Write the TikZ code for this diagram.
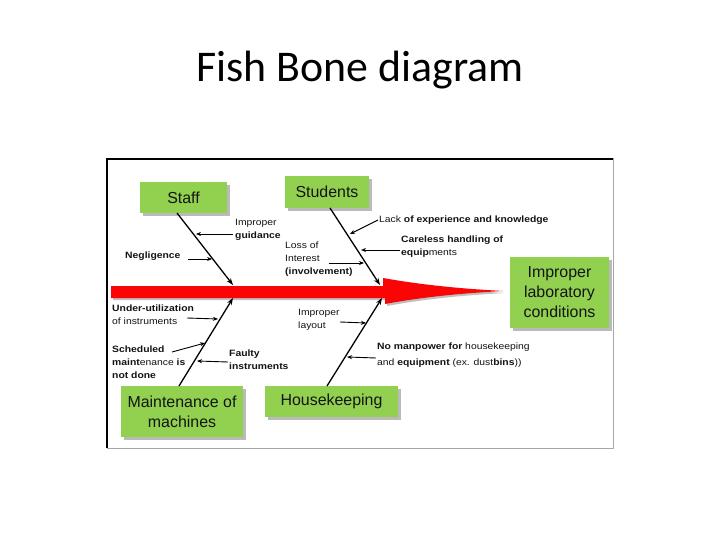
\documentclass[tikz,border=0pt]{standalone}
\usepackage{fontspec}
\setmainfont{Liberation Sans}
\newfontfamily\titlefont{Carlito}
\newfontfamily\lblfont[FakeStretch=1.13]{Liberation Sans}
\usetikzlibrary{arrows.meta,shadows}
\definecolor{boxgreen}{RGB}{146,208,80}
\definecolor{spinered}{RGB}{250,5,5}
\definecolor{txt}{RGB}{20,20,20}
\tikzset{
  box/.style={fill=boxgreen, inner sep=0pt, align=center, text=txt,
    font=\fontsize{16}{20}\selectfont,
    drop shadow={shadow xshift=3bp, shadow yshift=-3bp, fill=black!45, opacity=0.6}},
  lbl/.style={anchor=north west, inner sep=0pt, align=left, text=txt,
    font=\lblfont\fontsize{9.2}{13}\selectfont},
  bone/.style={line width=1.3bp, -{Stealth[length=7bp,width=5bp]}},
  twig/.style={line width=0.9bp, -{Stealth[length=5bp,width=4bp]}},
}
\begin{document}
\begin{tikzpicture}[x=1bp,y=-1bp]
\useasboundingbox (0,0) rectangle (720,540);
\fill[white] (0,0) rectangle (720,540);
% title
\node[anchor=base, inner sep=0pt, font=\titlefont\fontsize{44}{50}\selectfont] (title) at (360,82) {Fish Bone diagram};
% frame
\draw[black!35, line width=1bp] (107,159) rectangle (613,448);
\draw[black, line width=1.6bp] (107,448) -- (107,159) -- (613,159);
% spine shadow
\fill[black!25] (113,288) -- (385,288) -- (385,280) .. controls (430,288) and (470,291) .. (505,293)
  .. controls (470,295) and (430,298) .. (387,306) -- (387,300) -- (113,300) -- cycle;
% spine
\fill[spinered] (111,286) -- (383,286) -- (383,278) .. controls (428,286) and (468,289) .. (503,291)
  .. controls (468,293) and (428,296) .. (385,304) -- (385,298) -- (111,298) -- cycle;
% boxes
\node[box, minimum width=87bp, minimum height=31bp] (staff) at (183.5,197.5) {Staff};
\node[box, minimum width=84bp, minimum height=32bp] (students) at (327,192) {Students};
\node[box, minimum width=99bp, minimum height=71bp] (cond) at (559.5,292.5) {Improper\\laboratory\\conditions};
\node[box, minimum width=122bp, minimum height=51bp] (maint) at (182,411.5) {Maintenance of\\machines};
\node[box, minimum width=133bp, minimum height=31bp] (house) at (331.5,401.5) {Housekeeping};
% bone endpoints
\coordinate (b1s) at (177,213);  \coordinate (b1e) at (233,285);
\coordinate (b2s) at (330,208);  \coordinate (b2e) at (380,285);
\coordinate (b3s) at (179,386);  \coordinate (b3e) at (233,298);
\coordinate (b4s) at (327,386);  \coordinate (b4e) at (382,298);
\draw[bone] (b1s) -- (b1e);
\draw[bone] (b2s) -- (b2e);
\draw[bone] (b3s) -- (b3e);
\draw[bone] (b4s) -- (b4e);
% labels
\node[lbl] (guid) at (235,219) {Improper\\\textbf{guidance}};
\node[lbl] (negl) at (125,252) {\textbf{Negligence}};
\node[lbl] (loss) at (285,242) {Loss of\\Interest\\\textbf{(involvement)}};
\node[lbl] (lack) at (379,216) {Lack \textbf{of experience and knowledge}};
\node[lbl] (care) at (401,236) {\textbf{Careless handling of}\\\textbf{equip}ments};
\node[lbl] (under) at (112,305) {\textbf{Under-utilization}\\of instruments};
\node[lbl] (sched) at (112,346) {\textbf{Scheduled}\\\textbf{maint}enance \textbf{is}\\\textbf{not done}};
\node[lbl] (faulty) at (229,350) {\textbf{Faulty}\\\textbf{instruments}};
\node[lbl] (layout) at (298,309) {Improper\\layout};
\node[lbl] (manp) at (377,343) {\textbf{No manpower for} housekeeping\\[3bp]and \textbf{equipment} (ex. dust\textbf{bins}))};
% twig coordinates
\coordinate (g1) at (233,234); \coordinate (g2) at (196,234);
\coordinate (n1) at (188,259); \coordinate (n2) at (212,259);
\coordinate (l1) at (329,263); \coordinate (l2) at (364,263);
\coordinate (k1) at (378,220); \coordinate (k2) at (350,234);
\coordinate (c1) at (400,250); \coordinate (c2) at (361,250);
\coordinate (u1) at (187,318); \coordinate (u2) at (218,319);
\coordinate (s1) at (172,352); \coordinate (s2) at (205,343);
\coordinate (f1) at (228,362); \coordinate (f2) at (197,361);
\coordinate (y1) at (340,322); \coordinate (y2) at (366,323);
\coordinate (m1) at (376,358); \coordinate (m2) at (347,357);
\draw[twig] (g1) -- (g2);
\draw[twig] (n1) -- (n2);
\draw[twig] (l1) -- (l2);
\draw[twig] (k1) -- (k2);
\draw[twig] (c1) -- (c2);
\draw[twig] (u1) -- (u2);
\draw[twig] (s1) -- (s2);
\draw[twig] (f1) -- (f2);
\draw[twig] (y1) -- (y2);
\draw[twig] (m1) -- (m2);
\end{tikzpicture}
\end{document}
